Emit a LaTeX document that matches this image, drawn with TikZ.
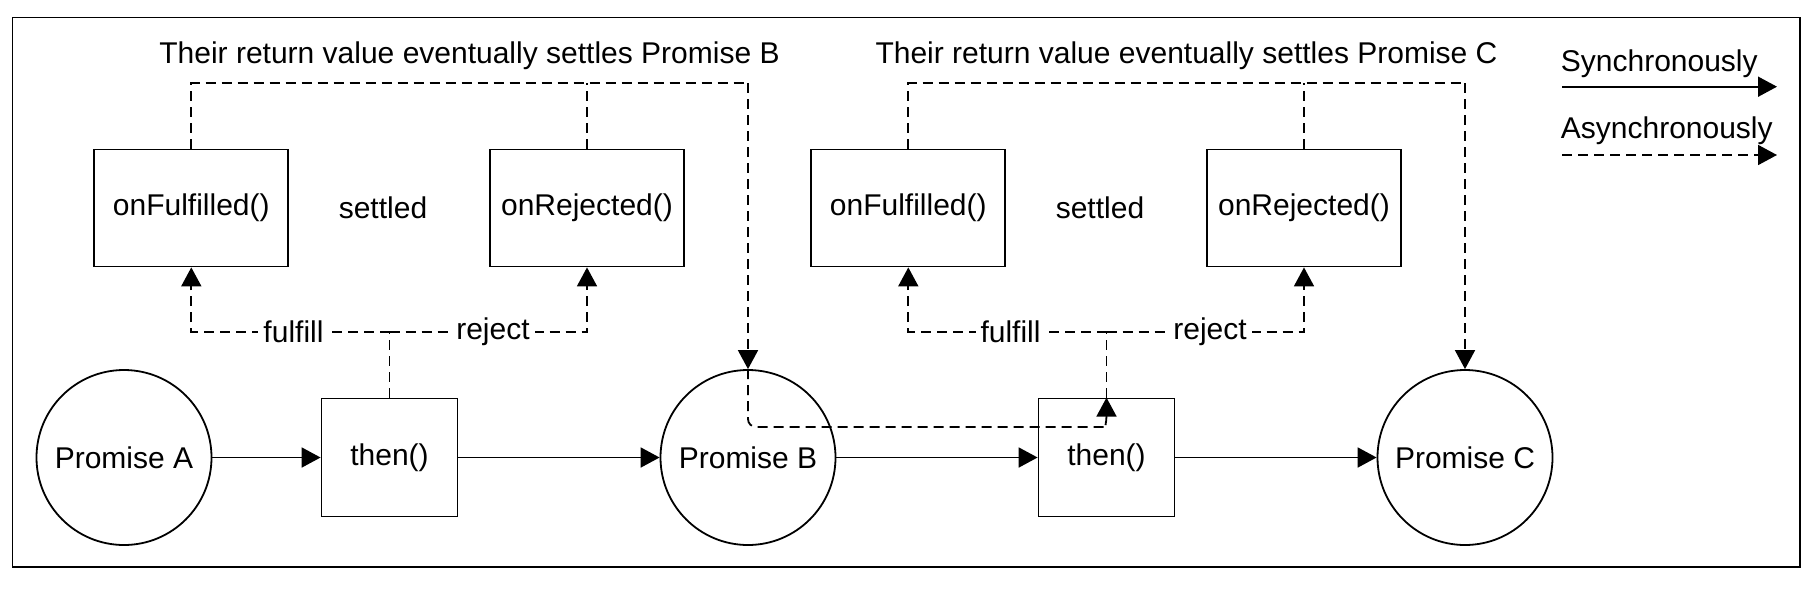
\documentclass[tikz,border=0pt]{standalone}
\usepackage{fontspec}
\setmainfont{Liberation Sans}
\usetikzlibrary{arrows.meta}
\begin{document}
\begin{tikzpicture}[x=1pt,y=-1pt,
  every node/.style={font=\fontsize{30}{36}\selectfont},
  line width=1.8pt,
  tipped/.style={-{Triangle[length=19pt,width=20pt]}},
  sync/.style={draw, tipped},
  async/.style={draw, tipped, dash pattern=on 10pt off 6pt},
  adash/.style={draw, dash pattern=on 10pt off 6pt},
  circ/.style={draw, circle, minimum size=175pt, inner sep=0pt},
  thenbox/.style={draw, rectangle, minimum width=136pt, minimum height=118pt, inner sep=0pt},
  cbbox/.style={draw, rectangle, minimum width=194pt, minimum height=117pt, inner sep=0pt},
  lbl/.style={fill=white, inner sep=5pt}
]
\useasboundingbox (0,0) rectangle (1818,592);
\draw (12.5,17.5) rectangle (1800,567);

% main row
\node[circ] (pA) at (124,457.5) {Promise A};
\node[thenbox] (t1) at (389.5,457.5) {then()};
\node[circ] (pB) at (748,457.5) {Promise B};
\node[thenbox] (t2) at (1106.5,457.5) {then()};
\node[circ] (pC) at (1465,457.5) {Promise C};

% callbacks
\node[cbbox] (f1) at (191.3,208) {onFulfilled()};
\node[cbbox] (r1) at (587,208) {onRejected()};
\node (s1) at (383,208) {settled};
\node[cbbox] (f2) at (908.3,208) {onFulfilled()};
\node[cbbox] (r2) at (1304,208) {onRejected()};
\node (s2) at (1100,208) {settled};

% titles
\node[anchor=base] (tb) at (469.5,63) {Their return value eventually settles Promise B};
\node[anchor=base] (tc) at (1186.5,63) {Their return value eventually settles Promise C};

% legend
\node[anchor=base west, inner sep=0pt] (ls) at (1560,71) {Synchronously};
\node[anchor=base west, inner sep=0pt] (la) at (1560,138) {Asynchronously};
\coordinate (ls1) at (1562,86.7);
\coordinate (ls2) at (1777,86.7);
\coordinate (la1) at (1562,155);
\coordinate (la2) at (1777,155);
\draw[sync] (ls1) -- (ls2);
\draw[async] (la1) -- (la2);

% synchronous arrows
\draw[sync] (pA) -- (t1);
\draw[sync] (t1) -- (pB);
\draw[sync] (pB) -- (t2);
\draw[sync] (t2) -- (pC);

% group 1 dashed
\coordinate (j1) at (389.5,332);
\draw[adash] (t1.north) -- (j1);
\draw[async] (j1) -| (f1.south);
\draw[async] (j1) -| (r1.south);
\node[lbl] (lf1) at (293.5,332) {fulfill};
\node[lbl] (lr1) at (493,332) {reject};
\coordinate (u1) at (748,83);
\draw[adash] (f1.north) |- (u1);
\draw[adash] (r1.north) -- (r1.north |- u1);
\draw[async] (u1) -- (pB.north);

% loop from Promise B into then() 2
\coordinate (k1) at (748,427);
\coordinate (k2) at (1099,427);
\draw[async] (pB.north) [rounded corners=8pt] -- (k1) -- (k2) [sharp corners] .. controls (1104,427) and (1106.5,423) .. (t2.north);

% group 2 dashed
\coordinate (j2) at (1106.5,332);
\draw[adash] (t2.north) -- (j2);
\draw[async] (j2) -| (f2.south);
\draw[async] (j2) -| (r2.south);
\node[lbl] (lf2) at (1010.5,332) {fulfill};
\node[lbl] (lr2) at (1210,332) {reject};
\coordinate (u2) at (1465,83);
\draw[adash] (f2.north) |- (u2);
\draw[adash] (r2.north) -- (r2.north |- u2);
\draw[async] (u2) -- (pC.north);
\end{tikzpicture}
\end{document}
